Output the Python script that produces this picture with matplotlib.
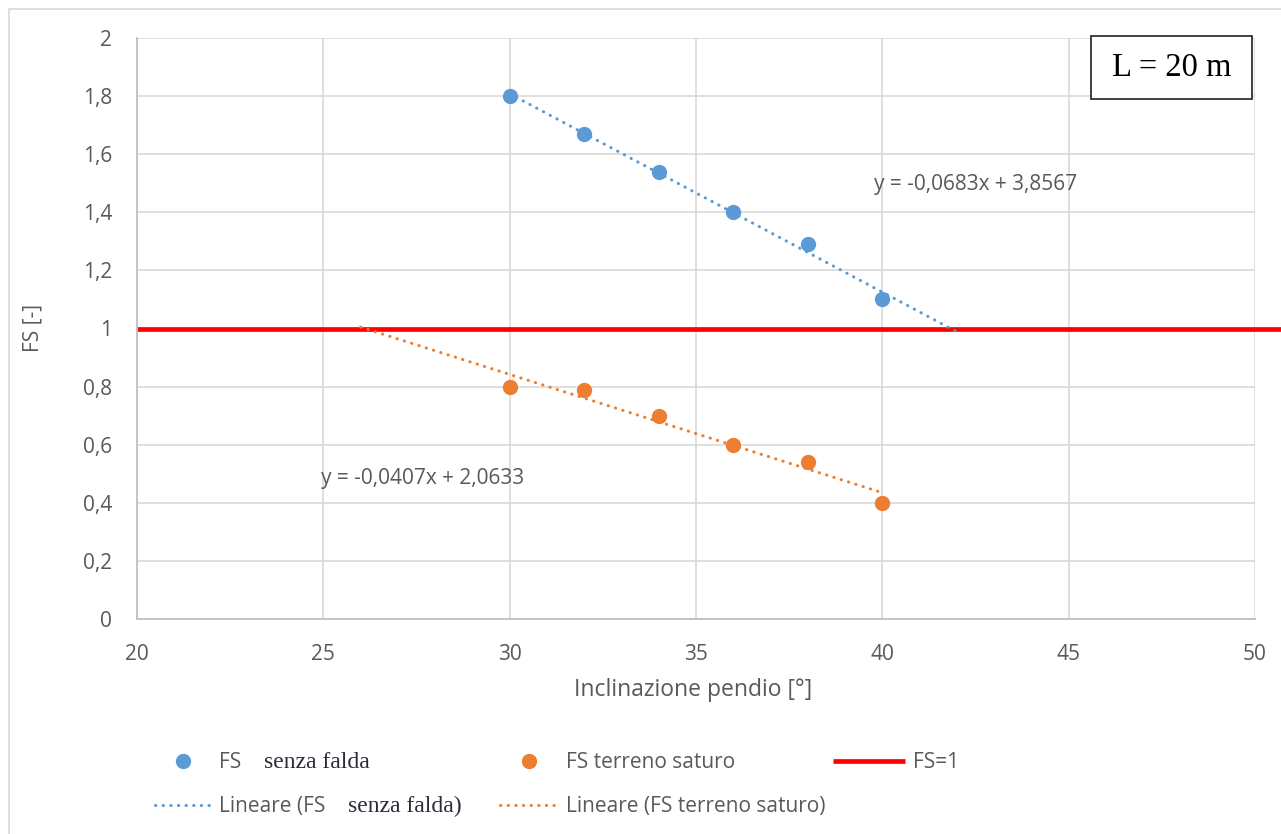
import numpy as np
import matplotlib
matplotlib.use("Agg")
import matplotlib.pyplot as plt
from matplotlib.patches import Rectangle

# data
incl = [30, 32, 34, 36, 38, 40]
fs_senza_falda = [1.80, 1.67, 1.54, 1.40, 1.29, 1.10]
fs_saturo = [0.80, 0.79, 0.70, 0.60, 0.54, 0.40]
fs1_x = [20, 52]
fs1_y = [1, 1]
trend_blue_x = [30, 42]    # forward forecast 2
trend_orange_x = [26, 40]  # backward forecast 4

x_ticks = [20, 25, 30, 35, 40, 45, 50]
y_ticks = [0, 0.2, 0.4, 0.6, 0.8, 1.0, 1.2, 1.4, 1.6, 1.8, 2.0]
y_labels = ["0", "0,2", "0,4", "0,6", "0,8", "1", "1,2", "1,4", "1,6", "1,8", "2"]

BLUE = "#5B9BD5"
ORANGE = "#ED7D31"
RED = "#FF0000"
TXT = "#595959"
GRID = "#D9D9D9"
FS = 15

plt.rcParams['font.family'] = ['Open Sans', 'DejaVu Sans']

W, H = 1281, 834
fig = plt.figure(figsize=(W / 100, H / 100), dpi=100)

# outer chart border
fig.patches.append(Rectangle((9 / W, -0.1), 1.2, 1.1 - 9 / H, transform=fig.transFigure,
                             fill=False, edgecolor=GRID, linewidth=1.2))

ax = fig.add_axes([137 / W, 1 - 619 / H, (1255 - 137) / W, (619 - 38) / H])
ax.set_xlim(20, 50)
ax.set_ylim(0, 2)
ax.set_xticks(x_ticks)
ax.set_xticklabels([str(v) for v in x_ticks])
ax.set_yticks(y_ticks)
ax.set_yticklabels(y_labels)
ax.tick_params(length=0, labelsize=FS, labelcolor=TXT, pad=18)
ax.grid(True, color=GRID, linewidth=1.2)
ax.set_axisbelow(True)
for s in ['top', 'right']:
    ax.spines[s].set_visible(False)
for s in ['left', 'bottom']:
    ax.spines[s].set_color("#BFBFBF")
    ax.spines[s].set_linewidth(1.3)

# trendlines
x = np.array(incl, dtype=float)
kb = np.polyfit(x, fs_senza_falda, 1)
ko = np.polyfit(x, fs_saturo, 1)
dot = dict(linestyle=(0, (0.1, 2.4)), dash_capstyle='round', linewidth=2.2)
tb_x = np.array(trend_blue_x, dtype=float)
to_x = np.array(trend_orange_x, dtype=float)
l_tb, = ax.plot(tb_x, np.polyval(kb, tb_x), color=BLUE, zorder=3, **dot)
l_to, = ax.plot(to_x, np.polyval(ko, to_x), color=ORANGE, zorder=3, **dot)

l_fs1, = ax.plot(fs1_x, fs1_y, color=RED, linewidth=3.4, clip_on=False,
                 solid_capstyle='butt', zorder=2)

p_b, = ax.plot(incl, fs_senza_falda, 'o', color=BLUE, markersize=10, zorder=4)
p_o, = ax.plot(incl, fs_saturo, 'o', color=ORANGE, markersize=10, zorder=4)

ax.text(39.78, 1.494, "y = -0,0683x + 3,8567", ha='left', va='center',
        fontsize=FS, color=TXT)
ax.text(24.94, 0.482, "y = -0,0407x + 2,0633", ha='left', va='center',
        fontsize=FS, color=TXT)

# axis labels
fig.text(33 / W, 1 - 328 / H, "FS [-]", rotation=90, ha='center', va='center',
         fontsize=FS, color=TXT)
fig.text(693 / W, 1 - 690 / H, "Inclinazione pendio [°]", ha='center', va='center',
         fontsize=16.5, color=TXT)

# L = 20 m box
fig.patches.append(Rectangle((1091 / W, 1 - 99 / H), 161 / W, 63 / H,
                             transform=fig.transFigure, fill=True, facecolor='white',
                             edgecolor='#202020', linewidth=1.2, zorder=5))
fig.text(1172 / W, 1 - 68 / H, "L = 20 m", ha='center', va='center', fontsize=23.5,
         family='Liberation Serif', color='black', zorder=6)

# legend (three columns)
leg_kw = dict(frameon=False, fontsize=FS, labelcolor=TXT, loc='upper left',
              handletextpad=0.4, labelspacing=1.12, borderaxespad=0, borderpad=0)
leg1 = fig.legend([p_b, l_tb], ["FS", "Lineare (FS"],
                  bbox_to_anchor=(155 / W, 1 - 752 / H), handlelength=2.65, **leg_kw)
fig.legend([p_o, l_to], ["FS terreno saturo", "Lineare (FS terreno saturo)"],
           bbox_to_anchor=(500 / W, 1 - 752 / H), handlelength=2.75, **leg_kw)
fig.legend([l_fs1], ["FS=1"],
           bbox_to_anchor=(833 / W, 1 - 752 / H), handlelength=3.45, **leg_kw)

# serif part of the first series name, appended after "FS"
fig.canvas.draw()
rend = fig.canvas.get_renderer()
for t, tail in zip(leg1.get_texts(), ["senza falda", "senza falda)"]):
    bb = t.get_window_extent(rend)
    bx, by = t.get_transform().transform(t.get_position())
    fig.text((bb.x1 + 23) / W, by / H, tail, ha='left', va='baseline',
             fontsize=17, family='Liberation Serif', color='#2b2b3b')

fig.savefig("out.png", dpi=100)
